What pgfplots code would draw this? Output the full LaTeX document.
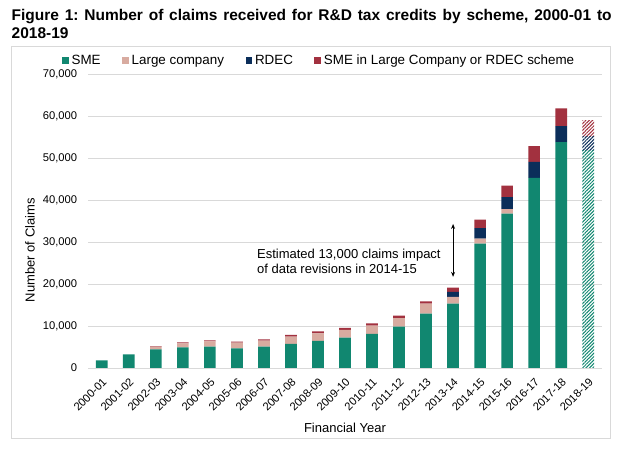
\documentclass[border=0pt]{standalone}
\usepackage{fontspec}
\setmainfont{Liberation Sans}
\usepackage{pgfplots}
\usepackage{pgfplotstable}
\pgfplotsset{compat=1.18}
\usetikzlibrary{patterns.meta, arrows.meta}
\definecolor{sme}{HTML}{118770}
\definecolor{large}{HTML}{D8ABA0}
\definecolor{rdec}{HTML}{0B2E5A}
\definecolor{smeil}{HTML}{A2313F}
\definecolor{gridgrey}{HTML}{D9D9D9}

\pgfplotstableread{
x sme large rdec smeil
0 1800 0 0 0
1 3260 0 0 0
2 4450 630 0 150
3 4930 950 0 200
4 5080 1270 0 250
5 4680 1350 0 250
6 5080 1420 0 320
7 5740 1740 0 420
8 6430 1820 0 480
9 7230 1830 0 480
10 8120 1980 0 500
11 9830 2070 0 560
12 12930 2370 0 570
13 15300 1630 1180 1030
14 29600 1200 2500 2000
15 36750 1050 2900 2700
16 45240 0 3810 3750
17 53800 0 3800 4200
18 0 0 0 0
}\actual

\pgfplotstableread{
x sme large rdec smeil
0 0 0 0 0
1 0 0 0 0
2 0 0 0 0
3 0 0 0 0
4 0 0 0 0
5 0 0 0 0
6 0 0 0 0
7 0 0 0 0
8 0 0 0 0
9 0 0 0 0
10 0 0 0 0
11 0 0 0 0
12 0 0 0 0
13 0 0 0 0
14 0 0 0 0
15 0 0 0 0
16 0 0 0 0
17 0 0 0 0
18 51800 0 3400 3800
}\estimated

\begin{document}
\frenchspacing
\begin{tikzpicture}[x=1pt,y=1pt]
\useasboundingbox (0,0) rectangle (630,455);
% chart frame
\draw[gridgrey, line width=0.9pt] (11,16.7) rectangle (610,409);
% title
\node[anchor=base west, inner sep=0pt, font=\bfseries\fontsize{15.5}{18}\selectfont] at (11.5,434.7) {\makebox[600pt][s]{Figure 1: Number of claims received for R\&D tax credits by scheme, 2000-01 to}};
\node[anchor=base west, inner sep=0pt, font=\bfseries\fontsize{15.5}{18}\selectfont] at (11.5,416.7) {2018-19};

\begin{axis}[
  at={(88.3pt,87pt)}, anchor=south west,
  scale only axis, width=513.4pt, height=294pt,
  xmin=-0.5, xmax=18.5, ymin=0, ymax=70000,
  ybar stacked, bar width=11.7pt,
  xtick={0,...,18},
  xticklabels={2000-01,2001-02,2002-03,2003-04,2004-05,2005-06,2006-07,2007-08,2008-09,2009-10,2010-11,2011-12,2012-13,2013-14,2014-15,2015-16,2016-17,2017-18,2018-19},
  ytick={0,10000,20000,30000,40000,50000,60000,70000},
  scaled y ticks=false,
  /pgf/number format/.cd, fixed, 1000 sep={,}, assume math mode=true, /pgfplots/.cd,
  ymajorgrids, grid style={gridgrey, line width=0.9pt},
  axis line style={draw=none},
  major tick length=0pt,
  tick label style={font=\fontsize{11.2}{13}\selectfont, inner sep=0pt},
  xticklabel style={rotate=45, anchor=north east},
  xticklabel shift=9pt, yticklabel shift=11pt,
  xlabel={Financial Year},
  ylabel={Number of Claims},
  label style={font=\fontsize{13}{15}\selectfont},
  xlabel style={at={(axis description cs:0.5,-0.204)}, anchor=center},
  ylabel style={at={(axis description cs:-0.1136,0.401)}, anchor=center},
  legend columns=4,
  legend style={draw=none, fill=none, inner sep=0pt, outer sep=0pt,
    at={(-0.051,1.0452)}, anchor=west,
    font=\fontsize{13.4}{15}\selectfont,
    nodes={inner sep=0pt},
    /tikz/every odd column/.style={column sep=3pt},
    /tikz/every even column/.style={column sep=21.5pt}},
  sq/.style={legend image code/.code={\fill[##1] (0pt,-3.25pt) rectangle (6.5pt,3.25pt);}},
]
\addplot[fill=sme, draw=none, sq] table[x=x, y=sme] {\actual};
\addlegendentry{SME}
\addplot[fill=large, draw=none, sq] table[x=x, y=large] {\actual};
\addlegendentry{Large company}
\addplot[fill=rdec, draw=none, sq] table[x=x, y=rdec] {\actual};
\addlegendentry{RDEC}
\addplot[fill=smeil, draw=none, sq] table[x=x, y=smeil] {\actual};
\addlegendentry{SME in Large Company or RDEC scheme}
\addplot[forget plot, draw=none, pattern={Lines[angle=45,distance=2.4pt,line width=1.0pt]}, pattern color=sme] table[x=x, y=sme] {\estimated};
\addplot[forget plot, draw=none, pattern={Lines[angle=45,distance=2.4pt,line width=1.0pt]}, pattern color=large] table[x=x, y=large] {\estimated};
\addplot[forget plot, draw=none, pattern={Lines[angle=45,distance=2.4pt,line width=1.0pt]}, pattern color=rdec] table[x=x, y=rdec] {\estimated};
\addplot[forget plot, draw=none, pattern={Lines[angle=45,distance=2.4pt,line width=1.0pt]}, pattern color=smeil] table[x=x, y=smeil] {\estimated};
\draw[line width=0.9pt, {Stealth[length=5pt,width=4pt]}-{Stealth[length=5pt,width=4pt]}] (axis cs:13,34300) -- (axis cs:13,21700);
\node[anchor=north west, inner sep=0pt, align=left, font=\fontsize{13}{15}\selectfont] at (axis cs:5.74,28450) {Estimated 13,000 claims impact\\of data revisions in 2014-15};
\end{axis}
\end{tikzpicture}
\end{document}
